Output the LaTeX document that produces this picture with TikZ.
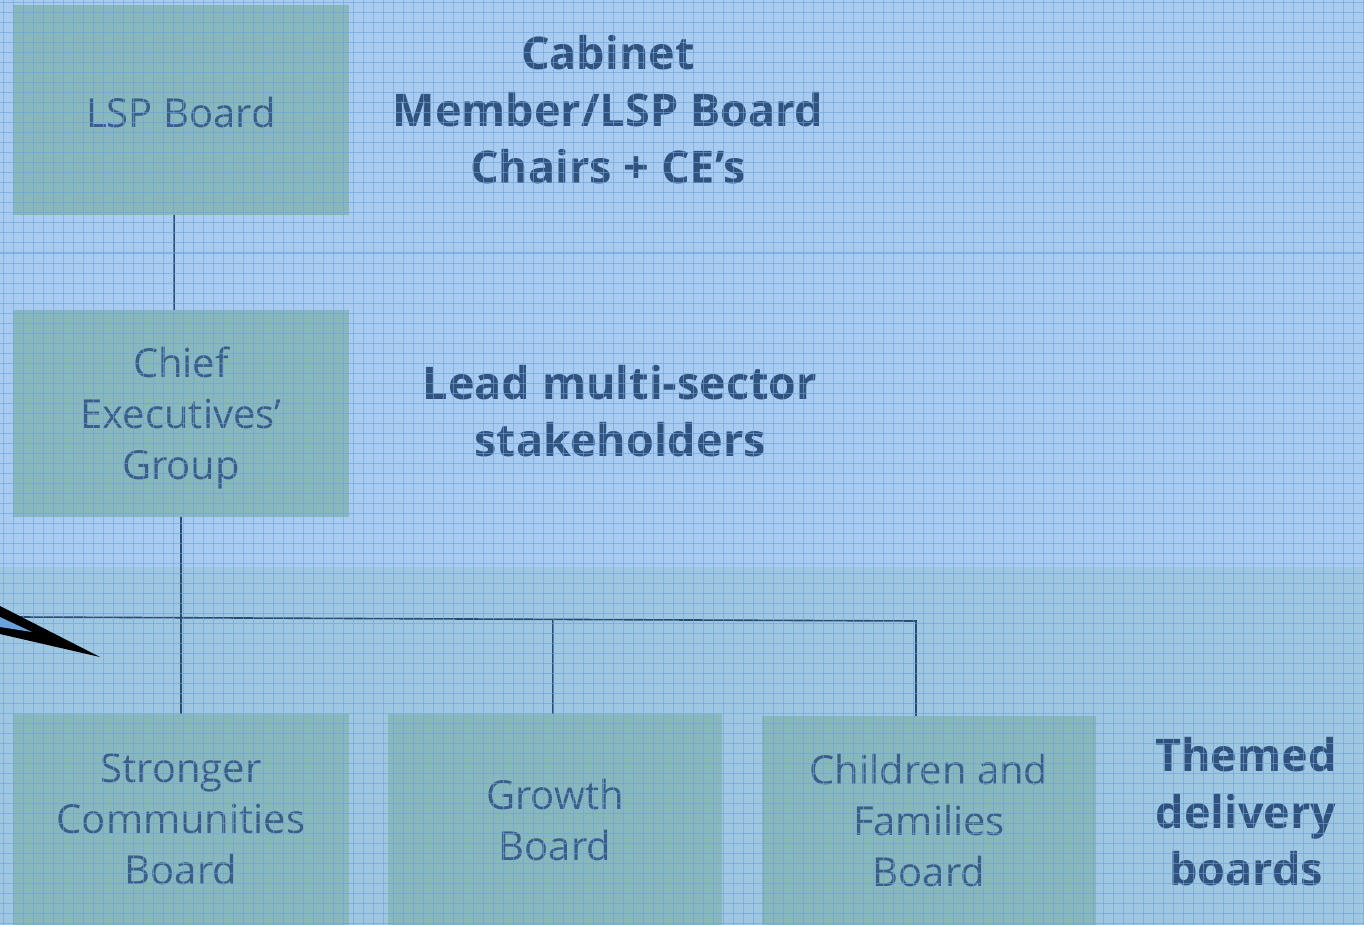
\documentclass[tikz,border=0pt]{standalone}
\usepackage{fontspec}
\setmainfont{Open Sans}
\begin{document}
\begin{tikzpicture}[x=1pt,y=-1pt,
  box/.style={draw=none,fill=boxfill,minimum width=336pt,inner sep=0pt,align=center,
    text=boxtext,font=\fontsize{40}{51}\selectfont},
  boxtxt/.style={align=center,text=boxtext,font=\fontsize{40}{51}\selectfont,inner sep=0pt},
  label/.style={align=center,text=lbltext,font=\fontsize{45}{57}\selectfont\bfseries},
  conn/.style={draw=connc,line width=1.6pt}]
\definecolor{bgc}{HTML}{AACBF0}
\definecolor{bandc}{HTML}{A0C7E0}
\definecolor{boxfill}{HTML}{88B7BC}
\definecolor{boxtext}{HTML}{3A5E87}
\definecolor{lbltext}{HTML}{30527C}
\definecolor{connc}{HTML}{2B4A70}
\definecolor{gridc}{HTML}{6AA2DE}
\useasboundingbox (0,0) rectangle (1364,925);
\fill[bgc] (0,0) rectangle (1364,925);
\fill[bandc] (0,567) rectangle (1364,925);
% boxes
\node[box,minimum height=210pt] (lsp) at (181,110) {};
\node[boxtxt] (lspt) at (181,113) {LSP Board};
\node[box,minimum height=207pt] (ceg) at (181,413.5) {};
\node[boxtxt] (cegt) at (181,418) {Chief\\Executives’\\Group};
\node[box,minimum height=211pt] (scb) at (181,819.5) {Stronger\\Communities\\Board};
\node[box,minimum height=211pt,minimum width=334pt] (gb) at (555,819.5) {Growth\\Board};
\node[box,minimum height=209pt,minimum width=334pt] (cfb) at (929,820.5) {Children and\\Families\\Board};
% labels
\node[label] (cab) at (608,110) {Cabinet\\Member/LSP Board\\Chairs + CE’s};
\node[label] (lead) at (620,411) {Lead multi-sector\\stakeholders};
\node[label] (themed) at (1246,812) {Themed\\delivery\\boards};
% connectors
\coordinate (busL) at (20,617);
\coordinate (busM) at (553,620);
\coordinate (busR) at (916,621);
\draw[conn] ([xshift=-7pt]lsp.south) -- ([xshift=-7pt]ceg.north);
\draw[conn] (ceg.south) -- (scb.north);
\draw[conn] (busL) -- (busR) -- (cfb.north -| busR);
\draw[conn] (busM) -- (gb.north -| busM);
% grid overlay
\begin{scope}[draw=gridc,line width=1pt,opacity=0.6]
\foreach \i in {0,...,136} { \draw (\i*10+3,0) -- (\i*10+3,925); }
\foreach \j in {0,...,92} { \draw (0,\j*10+3) -- (1364,\j*10+3); }
\end{scope}
% black wedge at left
\fill[black] (0,606) -- (100,657) -- (0,634) -- cycle;
\fill[gridc] (0,617) -- (32,632) -- (0,627) -- cycle;
\end{tikzpicture}
\end{document}
